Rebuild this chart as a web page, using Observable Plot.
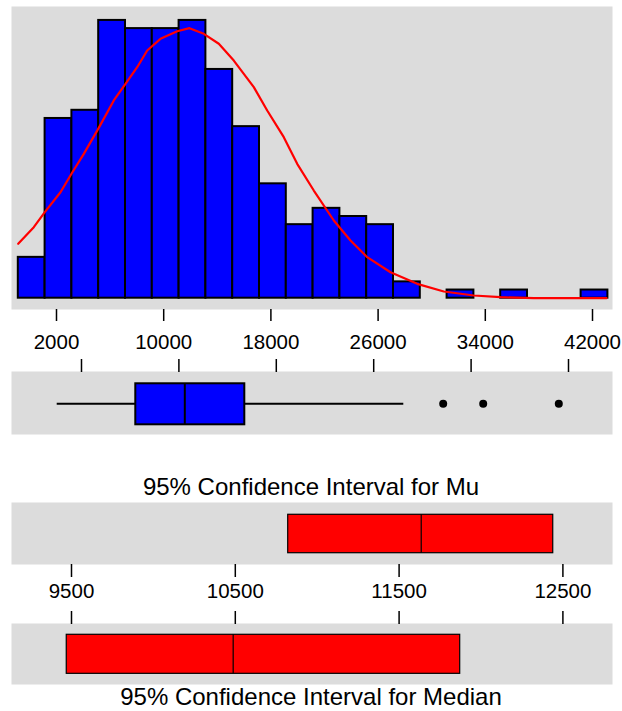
<!DOCTYPE html>
<html><head><meta charset="utf-8">
<script src="https://cdn.jsdelivr.net/npm/d3@7"></script>
<script src="https://cdn.jsdelivr.net/npm/@observablehq/plot@0.6"></script>
<style>
body{margin:0;background:#fff;}
#chart{position:relative;width:622px;height:711px;font-family:"Liberation Sans",Arial,sans-serif;}
#chart > svg{position:absolute;left:0;}
.title{position:absolute;left:0;width:622px;text-align:center;font-size:24px;line-height:24px;color:#000;white-space:nowrap;}
</style></head><body><div id="chart"></div>
<script>
// Histogram (bin midpoints, width 2000) and counts
const binMids = [0,2000,4000,6000,8000,10000,12000,14000,16000,18000,20000,22000,24000,26000,28000,30000,32000,34000,36000,38000,40000,42000];
const binCounts = [5,22,23,34,33,33,34,28,21,14,9,11,10,9,2,0,1,0,1,0,0,1];
const binWidth = 2000;
// Fitted normal curve
const fitX = [-1007,157,978,2149,2970,3888,4963,6127,7000,7873,8619,9612,10858,11776,12843,13963,15082,16575,17575,18813,19813,21052,22545,23791,25037,26776,28769,30754,32993,34985,37470,42896];
const fitY = [6.66,8.69,10.53,12.97,15.23,17.67,20.73,24.2,26.24,28.27,30.32,31.75,32.68,33.05,32.36,31.14,29.09,25.83,22.97,19.71,16.45,13.18,9.51,7.06,5.02,3.18,1.76,0.82,0.33,0.12,0,0];
const histTicks = [2000,10000,18000,26000,34000,42000];
// Boxplot: min, Q1, median, Q3, max (whisker ends) and outliers
const boxFiveNum = [5,6460,10485,15413,28472];
const boxOutliers = [31708,34994,41203];
// Confidence intervals
const ciNames = ["Mu","Median"];
const ciLower = [10823,9471];
const ciCenter = [11635,10487];
const ciUpper = [12441,11873];
const ciTicks = [9500,10500,11500,12500];

const chart = document.getElementById("chart");
const font = '"Liberation Sans", Arial, sans-serif';
const common = {width:622, marginLeft:11, marginRight:10,
  style:{background:"transparent", fontFamily:font, fontSize:"20.5px", color:"#000", overflow:"visible"}};
const bg = "#dcdcdc";

const bins = binMids.map((m,i)=>({x1:m-binWidth/2, x2:m+binWidth/2, count:binCounts[i]}));
const fit = fitX.map((x,i)=>({x, y:fitY[i]}));

const hist = Plot.plot({...common, height:360, marginTop:6, marginBottom:51,
  x:{domain:[-1507,43343]}, y:{domain:[-1.383,35.704], axis:null},
  marks:[
    Plot.frame({fill:bg, stroke:"none"}),
    Plot.rect(bins,{x1:"x1", x2:"x2", y1:()=>0, y2:"count", fill:"#0000ff", stroke:"#000", strokeWidth:2}),
    Plot.line(fit,{x:"x", y:"y", stroke:"#ff0000", strokeWidth:2.2}),
    Plot.axisX({anchor:"bottom", ticks:histTicks, tickSize:12, tickPadding:13, label:null, strokeWidth:1.5, dx:-2, tickFormat:d=>String(d)})
  ]});
hist.style.top = "0px";
chart.appendChild(hist);

const [bMin,bQ1,bMed,bQ3,bMax] = boxFiveNum;
const box = Plot.plot({...common, height:85, marginTop:16, marginBottom:6,
  x:{domain:[-3749,45614]}, y:{domain:[0,1], axis:null},
  marks:[
    Plot.frame({fill:bg, stroke:"none"}),
    Plot.axisX({anchor:"top", ticks:histTicks, tickSize:13, label:null, strokeWidth:1.5, tickFormat:()=>""}),
    Plot.ruleY([0.487],{x1:()=>bMin, x2:()=>bQ1, stroke:"#000", strokeWidth:2}),
    Plot.ruleY([0.487],{x1:()=>bQ3, x2:()=>bMax, stroke:"#000", strokeWidth:2}),
    Plot.rect([0],{x1:()=>bQ1, x2:()=>bQ3, y1:()=>0.154, y2:()=>0.805, fill:"#0000ff", stroke:"#000", strokeWidth:2}),
    Plot.ruleX([bMed],{y1:0.154, y2:0.805, stroke:"#000", strokeWidth:2}),
    Plot.dot(boxOutliers,{x:d=>d, y:()=>0.487, r:4, fill:"#000", stroke:"none"})
  ]});
box.style.top = "355px";
chart.appendChild(box);

function ciPlot(i, opts){
  return Plot.plot({...common, height:opts.height, marginTop:opts.mt, marginBottom:opts.mb,
    x:{domain:[9133.7,12802.8]}, y:{domain:[0,1], axis:null},
    marks:[
      Plot.frame({fill:bg, stroke:"none"}),
      Plot.rect([i],{x1:j=>ciLower[j], x2:j=>ciUpper[j], y1:()=>opts.b0, y2:()=>opts.b1, fill:"#ff0000", stroke:"#000", strokeWidth:1.2}),
      Plot.ruleX([i],{x:j=>ciCenter[j], y1:opts.b0, y2:opts.b1, stroke:"#000", strokeWidth:1.2}),
      opts.axis
    ]});
}
const mu = ciPlot(0,{height:105, mt:2, mb:41, b0:0.182, b1:0.802,
  axis:Plot.axisX({anchor:"bottom", ticks:ciTicks, tickSize:13, tickPadding:6, label:null, strokeWidth:1.5, tickFormat:d=>String(d)})});
mu.style.top = "500px";
chart.appendChild(mu);

const med = ciPlot(1,{height:85, mt:18, mb:6, b0:0.175, b1:0.815,
  axis:Plot.axisX({anchor:"top", ticks:ciTicks, tickSize:13, label:null, strokeWidth:1.5, tickFormat:()=>""})});
med.style.top = "605px";
chart.appendChild(med);

const t1 = document.createElement("div");
t1.className = "title"; t1.style.top = "475px";
t1.textContent = "95% Confidence Interval for " + ciNames[0];
chart.appendChild(t1);
const t2 = document.createElement("div");
t2.className = "title"; t2.style.top = "685px";
t2.textContent = "95% Confidence Interval for " + ciNames[1];
chart.appendChild(t2);
</script></body></html>
